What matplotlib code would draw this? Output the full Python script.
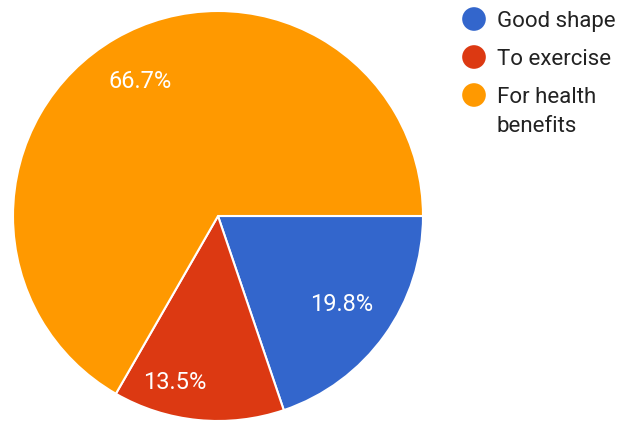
import numpy as np
import matplotlib.pyplot as plt

# answers and their share of responses (percent)
labels = ['Good shape', 'To exercise', 'For health\nbenefits']
shares = [19.8, 13.5, 66.7]
colors = ['#3366cc', '#dc3912', '#ff9900']

plt.rcParams['font.family'] = ['Roboto', 'DejaVu Sans']

W, H = 622, 421
fig = plt.figure(figsize=(W / 100, H / 100), dpi=100)

# pie: centre at (218, 216) px from top-left, radius 205 px
cx, cy, rad = 218, 216, 205
ax = fig.add_axes([(cx - rad) / W, (H - cy - rad) / H, 2 * rad / W, 2 * rad / H])
wedges, _ = ax.pie(shares, colors=colors, startangle=0, counterclock=False,
                   wedgeprops=dict(edgecolor='white', linewidth=1.5))
ax.set_xlim(-1, 1)
ax.set_ylim(-1, 1)
ax.set_aspect('equal')

# percentage labels inside each slice
lab_r = [0.74, 0.84, 0.76]
lab_shift = [0, -9, 0]   # degrees
for w, s, r, d in zip(wedges, shares, lab_r, lab_shift):
    ang = np.deg2rad((w.theta1 + w.theta2) / 2 + d)
    ax.text(r * np.cos(ang), r * np.sin(ang), '%.1f%%' % s,
            ha='center', va='center', color='white', fontsize=17)

# legend drawn in pixel coordinates (y down)
lax = fig.add_axes([0, 0, 1, 1])
lax.set_xlim(0, W)
lax.set_ylim(H, 0)
lax.axis('off')
base_y = [27, 65, 103]
line_h = 29
for y, lab, c in zip(base_y, labels, colors):
    lax.scatter([474], [y - 8], s=290, color=c, edgecolors='none')
    for i, line in enumerate(lab.split('\n')):
        lax.text(497, y + i * line_h, line, ha='left', va='baseline',
                 color='#222222', fontsize=16)

fig.savefig('out.png', dpi=100, facecolor='white')
